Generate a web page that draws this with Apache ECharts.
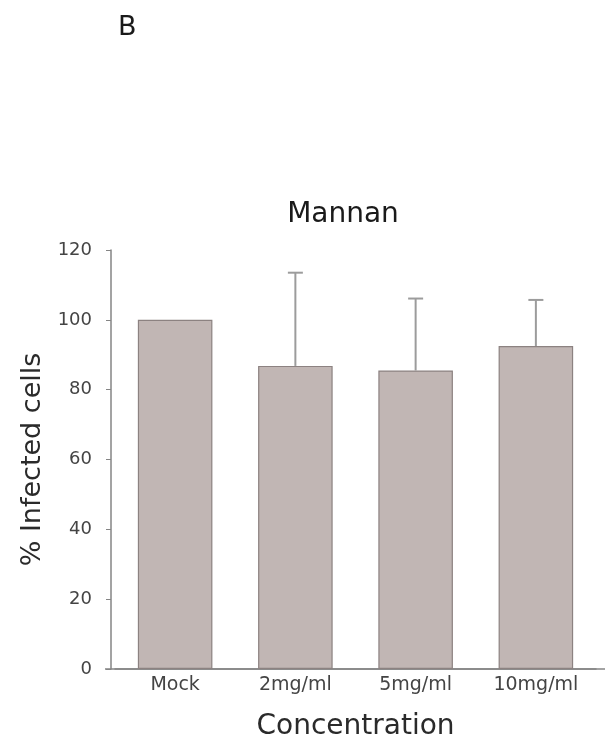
<!DOCTYPE html>
<html>
<head>
<meta charset="utf-8">
<script src="https://cdn.jsdelivr.net/npm/echarts@6/dist/echarts.min.js"></script>
<style>
  html, body { margin: 0; padding: 0; background: #fff; }
  #chart { width: 605px; height: 750px; }
</style>
</head>
<body>
<div id="chart"></div>
<script>
// Infection after mannan treatment, mean with upper SD whisker
const categories = ['Mock', '2mg/ml', '5mg/ml', '10mg/ml'];
const meanValues = [100, 86.8, 85.5, 92.5];
const upperErrors = [0, 26.7, 20.6, 13.2];
const yTicks = [0, 20, 40, 60, 80, 100, 120];

const chart = echarts.init(document.getElementById('chart'));

const font = '"DejaVu Sans", Verdana, sans-serif';
const axisGray = '#858585';

chart.setOption({
  animation: false,
  backgroundColor: '#ffffff',
  title: [
    {
      text: 'B', left: 113, top: 9,
      textStyle: { fontFamily: font, fontSize: 27, fontWeight: 'normal', color: '#1a1a1a' }
    },
    {
      text: 'Mannan', left: 338, top: 196, textAlign: 'center',
      textStyle: { fontFamily: font, fontSize: 28, fontWeight: 'normal', color: '#1a1a1a' }
    }
  ],
  grid: { left: 115, top: 250, right: 9, bottom: 81 },
  xAxis: {
    type: 'category',
    data: categories,
    name: 'Concentration',
    nameLocation: 'middle',
    nameGap: 44,
    nameTextStyle: { fontFamily: font, fontSize: 28, color: '#2a2a2a' },
    axisLine: { lineStyle: { color: axisGray, width: 1.5 } },
    axisTick: { show: false },
    axisLabel: { fontFamily: font, fontSize: 19, color: '#444', margin: 7 }
  },
  yAxis: {
    type: 'value',
    min: yTicks[0],
    max: yTicks[yTicks.length - 1],
    interval: 20,
    offset: 4,
    name: '% Infected cells',
    nameLocation: 'middle',
    nameGap: 63,
    nameTextStyle: { fontFamily: font, fontSize: 27, color: '#2a2a2a' },
    axisLine: { show: true, lineStyle: { color: axisGray, width: 1.5 } },
    axisTick: { show: true, inside: false, length: 5, lineStyle: { color: axisGray } },
    axisLabel: { fontFamily: font, fontSize: 18, color: '#444', margin: 19 },
    splitLine: { show: false }
  },
  series: [
    {
      type: 'bar',
      data: meanValues,
      barWidth: '62%',
      itemStyle: { color: '#c1b6b4', borderColor: '#8c8281', borderWidth: 1.2 },
      z: 2
    },
    {
      type: 'custom',
      z: 1,
      data: categories.map((c, i) => [i, meanValues[i], meanValues[i] + upperErrors[i]]),
      renderItem: function (params, api) {
        const idx = api.value(0);
        if (api.value(2) <= api.value(1)) return null;
        const base = api.coord([idx, api.value(1)]);
        const top = api.coord([idx, api.value(2)]);
        const half = 7.5;
        const style = { stroke: '#9c9c9c', lineWidth: 2 };
        return {
          type: 'group',
          children: [
            { type: 'line', shape: { x1: base[0], y1: base[1], x2: top[0], y2: top[1] }, style: style },
            { type: 'line', shape: { x1: top[0] - half, y1: top[1], x2: top[0] + half, y2: top[1] }, style: style }
          ]
        };
      }
    }
  ]
});

// The baseline runs a little past the value axis on the left and to the right edge
const zeroY = chart.convertToPixel({ yAxisIndex: 0 }, 0);
chart.setOption({
  graphic: [{
    type: 'line',
    shape: { x1: 105, y1: zeroY, x2: 605, y2: zeroY },
    style: { stroke: axisGray, lineWidth: 1.5 },
    z: 0
  }]
});
</script>
</body>
</html>
